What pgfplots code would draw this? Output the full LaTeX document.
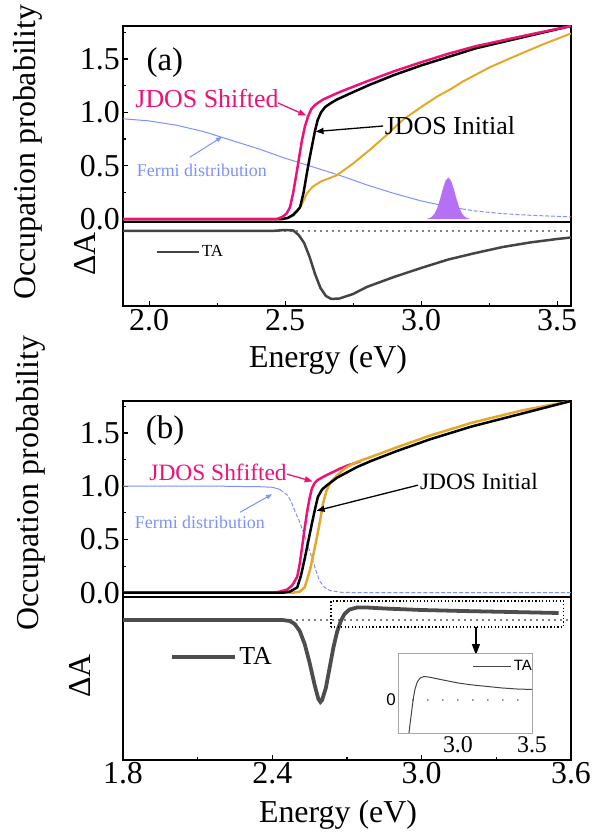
\documentclass[border=0pt]{standalone}
\usepackage{pgfplots}
\pgfplotsset{compat=1.18}
\usepackage{fontspec}
\setmainfont{Liberation Serif}
\newfontfamily\arialf{Liberation Sans}
\usetikzlibrary{arrows.meta}
\definecolor{cpink}{RGB}{238,18,120}
\definecolor{corange}{RGB}{228,168,40}
\definecolor{cblue}{RGB}{125,145,255}
\definecolor{cpurple}{RGB}{182,112,245}
\definecolor{cgray}{RGB}{68,68,68}
\newcommand{\fs}[1]{\fontsize{#1}{#1}\selectfont}
\pgfplotsset{
  base/.style={scale only axis, anchor=south west, width=448bp,
    axis line style={line width=2.6pt}, tick align=inside,
    tick style={black, line width=1.2pt}, major tick length=5bp, minor tick length=3bp,
    xticklabel style={font=\fs{32}},
    yticklabel style={font=\fs{32}, inner sep=3pt}},
  dotz/.style={black, line width=1.6pt, line cap=round, dash pattern=on 0pt off 6bp},
}
\begin{document}
\begin{tikzpicture}
\useasboundingbox (0,0) rectangle (595bp,836bp);

% ================= panel (a) upper =================
\begin{axis}[base, at={(123bp,614bp)}, height=196bp,
  xmin=1.904, xmax=3.551, ymin=-0.028, ymax=1.81,
  xtick=\empty, ytick={0,0.5,1,1.5}, yticklabels={0.0,0.5,1.0,1.5},
  minor ytick={0.25,0.75,1.25,1.75}, ytick pos=left]
\addplot[cblue, line width=1pt] coordinates {(1.904,0.94)(2.0,0.92)(2.1,0.88)(2.2,0.82)(2.3,0.74)(2.4,0.66)(2.5,0.57)(2.6,0.49)(2.7,0.41)(2.8,0.32)(2.9,0.24)(3.0,0.17)(3.1,0.115)(3.15,0.095)};
\addplot[cblue, line width=1pt, dash pattern=on 4pt off 2pt] coordinates {(3.15,0.095)(3.2,0.075)(3.3,0.05)(3.4,0.035)(3.5,0.025)(3.551,0.02)};
\addplot[fill=cpurple, draw=none] coordinates {(3.02,0.002)(3.03,0.008)(3.04,0.022)(3.05,0.053)(3.06,0.108)(3.07,0.19)(3.08,0.283)(3.09,0.36)(3.10,0.39)(3.11,0.36)(3.12,0.283)(3.13,0.19)(3.14,0.108)(3.15,0.053)(3.16,0.022)(3.17,0.008)(3.18,0.002)} \closedcycle;
\addplot[corange, line width=2pt] coordinates {(1.904,0)(2.49,0)(2.51,0.01)(2.53,0.03)(2.545,0.07)(2.56,0.13)(2.58,0.24)(2.60,0.30)(2.63,0.35)(2.66,0.38)(2.69,0.41)(2.75,0.52)(2.812,0.65)(2.87,0.78)(2.933,0.93)(3.0,1.05)(3.06,1.15)(3.11,1.22)(3.154,1.29)(3.25,1.42)(3.33,1.51)(3.45,1.64)(3.551,1.74)};
\addplot[black, line width=2.5pt] coordinates {(1.904,0)(2.49,0)(2.51,0.01)(2.53,0.04)(2.545,0.08)(2.555,0.11)(2.568,0.25)(2.58,0.43)(2.59,0.57)(2.6,0.70)(2.61,0.83)(2.62,0.93)(2.632,1.0)(2.647,1.05)(2.67,1.09)(2.69,1.12)(2.75,1.19)(2.812,1.26)(2.9,1.35)(3.0,1.44)(3.1,1.52)(3.2,1.60)(3.3,1.66)(3.4,1.72)(3.551,1.81)};
\addplot[cpink, line width=2.5pt] coordinates {(1.904,0)(2.47,0)(2.49,0.02)(2.505,0.05)(2.518,0.11)(2.53,0.25)(2.544,0.46)(2.553,0.60)(2.562,0.74)(2.573,0.87)(2.584,0.96)(2.596,1.03)(2.61,1.07)(2.639,1.12)(2.7,1.19)(2.8,1.29)(2.9,1.385)(3.0,1.47)(3.1,1.55)(3.2,1.62)(3.3,1.675)(3.4,1.73)(3.551,1.81)};
\node[text=cpink, font=\fs{26}] at (axis cs:2.213,1.126) {JDOS Shifted};
\draw[cpink, line width=1.3pt, -{Triangle[length=8pt,width=6pt]}] (axis cs:2.474,1.088) -- (axis cs:2.578,0.97);
\node[font=\fs{26}] at (axis cs:3.106,0.88) {JDOS Initial};
\draw[black, line width=1.3pt, -{Triangle[length=8pt,width=6pt]}] (axis cs:2.86,0.872) -- (axis cs:2.612,0.82);
\node[text=cblue, font=\fs{18}] at (axis cs:2.194,0.46) {Fermi distribution};
\draw[cblue, line width=1pt, -{Triangle[length=6pt,width=4.5pt]}] (axis cs:2.15,0.58) -- (axis cs:2.268,0.77);
\node[font=\fs{33}] at (axis cs:2.058,1.47) {(a)};
\end{axis}

% ================= panel (a) lower =================
\begin{axis}[base, at={(123bp,530bp)}, height=84bp,
  xmin=1.904, xmax=3.551, ymin=-7.5, ymax=0.9,
  ytick=\empty, xtick={2,2.5,3,3.5}, xticklabels={2.0,2.5,3.0,3.5},
  minor xtick={2.25,2.75,3.25}, xtick pos=bottom,
  legend style={at={(axis cs:2.022,-2.1)}, anchor=west, draw=none, fill=none, font=\fs{17}, inner sep=0pt},
  legend image code/.code={\draw[#1] (0bp,0bp) -- (42bp,0bp);}]
\addplot[dotz, forget plot] coordinates {(1.904,0)(3.551,0)};
\addplot[cgray, line width=2.5pt] coordinates {(1.904,0)(2.45,0)(2.50,0.1)(2.53,0.05)(2.55,-0.4)(2.57,-1.2)(2.59,-2.6)(2.61,-4.3)(2.63,-5.7)(2.65,-6.5)(2.67,-6.8)(2.70,-6.75)(2.75,-6.3)(2.8,-5.6)(2.9,-4.6)(3.0,-3.7)(3.1,-2.85)(3.2,-2.2)(3.3,-1.6)(3.4,-1.15)(3.5,-0.8)(3.551,-0.65)};
\addlegendentry{TA}
\end{axis}

% ================= panel (b) upper =================
\begin{axis}[base, at={(123bp,239bp)}, height=196bp,
  xmin=1.8, xmax=3.6, ymin=-0.04, ymax=1.80,
  xtick=\empty, ytick={0,0.5,1,1.5}, yticklabels={0.0,0.5,1.0,1.5},
  minor ytick={0.25,0.75,1.25,1.75}, ytick pos=left]
\addplot[cblue, line width=1pt] coordinates {(1.8,1.0)(2.2,1.0)(2.35,0.995)(2.40,0.99)(2.43,0.97)};
\addplot[cblue, line width=1pt, dash pattern=on 4pt off 2pt] coordinates {(2.43,0.97)(2.459,0.92)(2.475,0.86)(2.49,0.77)(2.507,0.68)(2.523,0.58)(2.54,0.46)(2.559,0.33)(2.575,0.21)(2.59,0.11)(2.61,0.05)(2.632,0.02)(2.68,0.003)(2.8,0)(3.6,0)};
\addplot[cpink, line width=2.5pt] coordinates {(1.8,0)(2.40,0)(2.43,0.01)(2.46,0.03)(2.48,0.07)(2.5,0.15)(2.51,0.27)(2.519,0.42)(2.529,0.59)(2.539,0.75)(2.549,0.88)(2.559,0.98)(2.57,1.03)(2.583,1.06)(2.61,1.095)(2.632,1.12)(2.67,1.163)(2.70,1.193)(2.73,1.215)(2.755,1.235)};
\addplot[corange, line width=2.5pt] coordinates {(1.8,0)(2.48,0)(2.51,0.01)(2.53,0.05)(2.551,0.21)(2.565,0.36)(2.579,0.52)(2.592,0.68)(2.604,0.84)(2.618,0.96)(2.632,1.03)(2.66,1.10)(2.69,1.165)(2.73,1.218)(2.76,1.245)(2.8,1.278)(2.9,1.365)(3.033,1.475)(3.2,1.595)(3.4,1.71)(3.6,1.80)};
\addplot[black, line width=2.5pt] coordinates {(1.8,0)(2.44,0)(2.47,0.01)(2.5,0.05)(2.515,0.16)(2.531,0.33)(2.545,0.49)(2.559,0.65)(2.571,0.78)(2.583,0.90)(2.60,0.97)(2.62,1.01)(2.66,1.08)(2.70,1.13)(2.74,1.18)(2.8,1.24)(2.9,1.33)(3.033,1.44)(3.2,1.56)(3.4,1.68)(3.6,1.80)};
\node[text=cpink, font=\fs{23.5}] at (axis cs:2.182,1.13) {JDOS Shfifted};
\draw[cpink, line width=1.3pt, -{Triangle[length=8pt,width=6pt]}] (axis cs:2.459,1.113) -- (axis cs:2.562,1.045);
\node[font=\fs{23.5}] at (axis cs:3.23,1.04) {JDOS Initial};
\draw[black, line width=1.3pt, -{Triangle[length=8pt,width=6pt]}] (axis cs:2.985,1.01) -- (axis cs:2.578,0.77);
\node[text=cblue, font=\fs{18}] at (axis cs:2.109,0.66) {Fermi distribution};
\draw[cblue, line width=1pt, -{Triangle[length=6pt,width=4.5pt]}] (axis cs:2.27,0.755) -- (axis cs:2.399,0.925);
\node[font=\fs{33}] at (axis cs:1.969,1.52) {(b)};
\end{axis}

% ================= panel (b) lower =================
\begin{axis}[base, at={(123bp,76bp)}, height=163bp,
  xmin=1.8, xmax=3.6, ymin=-14, ymax=2.3,
  ytick=\empty, xtick={1.8,2.4,3.0,3.6}, xticklabels={1.8,2.4,3.0,3.6},
  minor xtick={2.1,2.7,3.3}, xtick pos=bottom,
  xticklabel style={inner sep=2pt},
  legend style={at={(axis cs:1.99,-3.7)}, anchor=west, draw=none, fill=none, font=\fs{26}, inner sep=0pt},
  legend image code/.code={\draw[#1] (0bp,0bp) -- (63bp,0bp);}]
\addplot[dotz, forget plot] coordinates {(1.8,0)(3.6,0)};
\addplot[cgray!95, line width=3.8pt] coordinates {(1.8,0)(2.44,0)(2.47,-0.1)(2.49,-0.4)(2.51,-1.1)(2.53,-2.4)(2.55,-4.3)(2.57,-6.5)(2.585,-7.9)(2.593,-8.2)(2.60,-8.0)(2.615,-6.8)(2.63,-4.8)(2.645,-2.8)(2.66,-1.2)(2.675,-0.1)(2.69,0.6)(2.71,1.05)(2.74,1.25)(2.78,1.25)(2.85,1.15)(3.0,1.0)(3.2,0.88)(3.4,0.78)(3.55,0.7)};
\addlegendentry{TA}
\draw[black, line width=1.3pt, dash pattern=on 1.3pt off 2.2pt] (axis cs:2.636,-0.7) rectangle (axis cs:3.57,1.9);
\draw[black, line width=1.2pt, -{Triangle[length=11pt,width=8pt]}] (axis cs:3.218,-0.7) -- (axis cs:3.218,-3.5);
\end{axis}

% ================= inset =================
\begin{axis}[scale only axis, anchor=south west, at={(398bp,103bp)}, width=134bp, height=80bp,
  xmin=2.595, xmax=3.5, ymin=-3.3, ymax=4.7,
  axis background/.style={fill=white},
  axis line style={black!35, line width=0.9pt},
  xtick={3,3.5}, xticklabels={3.0,3.5}, ytick={0}, yticklabels={0},
  major tick length=0pt, xtick pos=bottom, ytick pos=left,
  xticklabel style={font=\fs{24}, inner sep=3pt},
  yticklabel style={font=\arialf\fs{17}, inner sep=2pt},
  legend style={at={(axis cs:3.10,3.4)}, anchor=west, draw=none, fill=none, font=\arialf\fs{15}, inner sep=0pt},
  legend image code/.code={\draw[#1] (0bp,0bp) -- (38bp,0bp);}]
\addplot[black, line width=1.4pt, line cap=round, dash pattern=on 0pt off 15bp, forget plot] coordinates {(2.695,0)(3.45,0)};
\addplot[cgray, line width=1pt] coordinates {(2.669,-3.3)(2.68,-2.0)(2.69,-0.8)(2.70,0.3)(2.71,1.1)(2.725,1.8)(2.745,2.2)(2.77,2.35)(2.8,2.3)(2.9,2.0)(3.0,1.7)(3.1,1.5)(3.2,1.35)(3.3,1.2)(3.4,1.1)(3.5,1.05)};
\addlegendentry{TA}
\end{axis}

% ================= axis labels =================
\node[rotate=90, font=\fs{32}] at (28bp,684bp) {Occupation probability};
\node[rotate=90, font=\fs{32}] at (85bp,582bp) {ΔA};
\node[font=\fs{32}] at (328bp,476bp) {Energy (eV)};
\node[rotate=90, font=\fs{32}] at (31bp,353bp) {Occupation probability};
\node[rotate=90, font=\fs{32}] at (80bp,160bp) {ΔA};
\node[font=\fs{32}] at (338bp,21bp) {Energy (eV)};
\end{tikzpicture}
\end{document}
